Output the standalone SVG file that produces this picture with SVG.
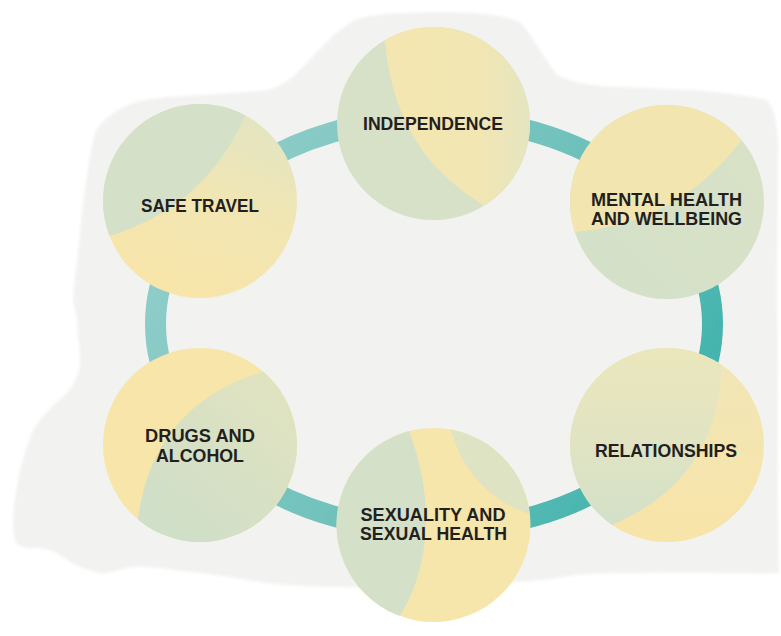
<svg xmlns="http://www.w3.org/2000/svg" width="781" height="636" viewBox="0 0 781 636">
<style>
.lbl{font-family:"Liberation Sans",Arial,sans-serif;font-weight:bold;font-size:19px;fill:#231f20;text-anchor:middle}
</style>
<defs>
<filter id="soft" x="-5%" y="-5%" width="110%" height="110%"><feGaussianBlur stdDeviation="1.5"/></filter>
<linearGradient id="ring" gradientUnits="userSpaceOnUse" x1="160" y1="150" x2="720" y2="500">
<stop offset="0" stop-color="#95cfcb"/><stop offset="0.5" stop-color="#72c2bd"/><stop offset="1" stop-color="#36b0a9"/>
</linearGradient>
<linearGradient id="gInd" x1="0" y1="0" x2="1" y2="0">
<stop offset="0" stop-color="#f4e6b0"/><stop offset="0.6" stop-color="#f2e6b3"/><stop offset="1" stop-color="#e2e5c3"/>
</linearGradient>
<linearGradient id="gSafe" x1="0.8" y1="0" x2="0.4" y2="1">
<stop offset="0" stop-color="#e1e5c4"/><stop offset="0.5" stop-color="#f1e6b3"/><stop offset="1" stop-color="#f8e5a9"/>
</linearGradient>
<linearGradient id="gDrugG" x1="1" y1="0" x2="0.2" y2="1">
<stop offset="0" stop-color="#e3e4bf"/><stop offset="0.6" stop-color="#d6e0c5"/><stop offset="1" stop-color="#cfdfc9"/>
</linearGradient>
<linearGradient id="gRelG" x1="0" y1="0" x2="0" y2="1">
<stop offset="0" stop-color="#ebe7bb"/><stop offset="0.5" stop-color="#e2e4c2"/><stop offset="1" stop-color="#d2e0c9"/>
</linearGradient>
<linearGradient id="gRelY" x1="0" y1="0" x2="0" y2="1">
<stop offset="0" stop-color="#f0e6b8"/><stop offset="1" stop-color="#f8e4a8"/>
</linearGradient>
<linearGradient id="gMentG" x1="1" y1="0" x2="0" y2="1">
<stop offset="0" stop-color="#d9e2c6"/><stop offset="1" stop-color="#d3e0c9"/>
</linearGradient>
<clipPath id="cInd"><circle cx="433.5" cy="123.5" r="96.5"/></clipPath>
<clipPath id="cMent"><circle cx="667" cy="202" r="97"/></clipPath>
<clipPath id="cSafe"><circle cx="200" cy="201" r="97"/></clipPath>
<clipPath id="cDrug"><circle cx="200" cy="445" r="97"/></clipPath>
<clipPath id="cSex"><circle cx="433.5" cy="525" r="97"/></clipPath>
<clipPath id="cRel"><circle cx="667" cy="445" r="97"/></clipPath>
</defs>
<rect width="781" height="636" fill="#ffffff"/>
<path id="background" fill="#f2f3f1" filter="url(#soft)" d="M93,140 C96,125 110,112 133,103 C150,98 167,97 200,95 C230,93 250,92 267,90 C280,87 290,80 300,70 C315,55 335,30 355,20 C370,14 400,12 450,12 C480,13 505,15 520,22 C532,35 542,55 557,75 C575,84 600,87 623,87 C650,88 670,89 690,90 C720,92 745,95 767,100 C775,110 777,125 778,140 L777,300 C779,380 776,460 779,573 C760,574 740,573 723,573 C690,572 650,573 623,573 C600,573 580,574 563,577 C520,585 400,588 333,587 C300,586 280,585 267,583 C240,579 220,575 200,573 C170,570 150,566 133,567 C118,569 110,574 100,573 C85,570 75,565 67,560 C58,553 52,550 40,548 C25,548 17,548 15,540 C12,530 13,520 14,505 C16,490 18,480 20,470 C24,455 28,442 33,430 C45,412 58,400 67,393 C75,383 80,372 80,360 C80,345 77,335 77,320 C76,310 73,305 73,300 C74,280 78,255 80,233 C83,200 88,165 93,140 Z"/>
<g id="connectors">
<ellipse cx="434" cy="324" rx="278.5" ry="206" fill="none" stroke="url(#ring)" stroke-width="21"/>
</g>
<g id="node-independence">
<circle cx="433.5" cy="123.5" r="96.5" fill="#d6e1c7"/>
<path clip-path="url(#cInd)" fill="url(#gInd)" d="M384,20 C386,110 420,170 492,210 L540,210 L540,20 Z"/>
<text class="lbl" x="433" y="130" textLength="140" lengthAdjust="spacingAndGlyphs">INDEPENDENCE</text>
</g>
<g id="node-mental-health">
<circle cx="667" cy="202" r="97" fill="url(#gMentG)"/>
<path clip-path="url(#cMent)" fill="#f3e5af" d="M560,233 C620,230 690,212 746,134 L746,95 L560,95 Z"/>
<text class="lbl" x="666.5" y="206" textLength="151" lengthAdjust="spacingAndGlyphs">MENTAL HEALTH</text>
<text class="lbl" x="666.5" y="225" textLength="151" lengthAdjust="spacingAndGlyphs">AND WELLBEING</text>
</g>
<g id="node-safe-travel">
<circle cx="200" cy="201" r="97" fill="url(#gSafe)"/>
<path clip-path="url(#cSafe)" fill="#d4e0c8" d="M95,240 C150,226 215,195 252,100 L95,100 Z"/>
<text class="lbl" x="200" y="212" textLength="118" lengthAdjust="spacingAndGlyphs">SAFE TRAVEL</text>
</g>
<g id="node-drugs-alcohol">
<circle cx="200" cy="445" r="97" fill="#f8e5aa"/>
<path clip-path="url(#cDrug)" fill="url(#gDrugG)" d="M136,545 C138,470 170,398 266,371 L300,371 L300,545 Z"/>
<text class="lbl" x="200" y="442" textLength="110" lengthAdjust="spacingAndGlyphs">DRUGS AND</text>
<text class="lbl" x="200" y="462" textLength="88" lengthAdjust="spacingAndGlyphs">ALCOHOL</text>
</g>
<g id="node-sexuality">
<circle cx="433.5" cy="525" r="97" fill="#f7e6ab"/>
<path clip-path="url(#cSex)" fill="#d4e0c8" d="M330,420 L404,420 C432,480 438,565 393,626 L330,626 Z"/>
<path clip-path="url(#cSex)" fill="#dde3c3" d="M450,425 C460,470 490,502 535,516 L540,516 L540,420 Z"/>
<text class="lbl" x="433" y="521" textLength="145" lengthAdjust="spacingAndGlyphs">SEXUALITY AND</text>
<text class="lbl" x="433.5" y="540" textLength="147" lengthAdjust="spacingAndGlyphs">SEXUAL HEALTH</text>
</g>
<g id="node-relationships">
<circle cx="667" cy="445" r="97" fill="url(#gRelY)"/>
<path clip-path="url(#cRel)" fill="url(#gRelG)" d="M560,340 L721,340 C726,420 700,492 600,530 L560,530 Z"/>
<text class="lbl" x="666" y="457" textLength="142" lengthAdjust="spacingAndGlyphs">RELATIONSHIPS</text>
</g>
</svg>
